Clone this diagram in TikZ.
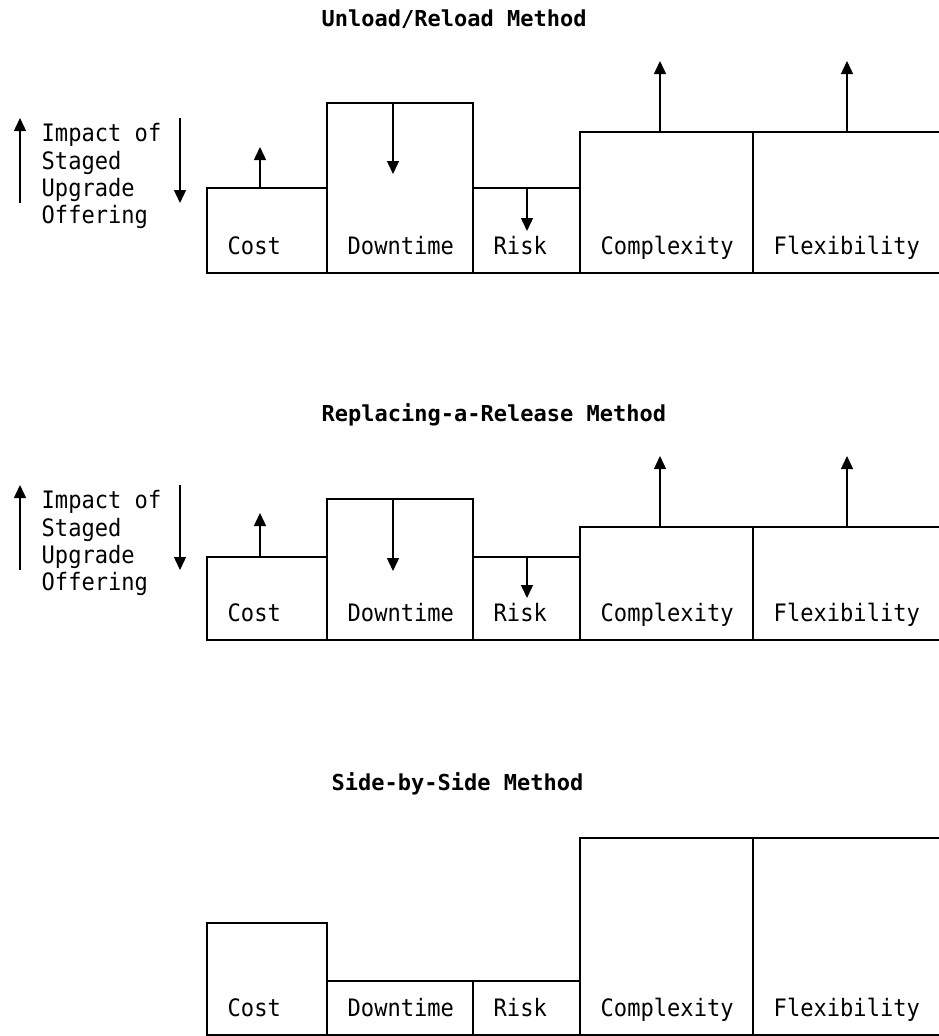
\documentclass[tikz,border=0pt]{standalone}
\usepackage{fontspec}
\setmonofont[FakeStretch=0.92]{DejaVu Sans Mono}
\newfontfamily\titlemono{DejaVu Sans Mono}
\usetikzlibrary{positioning, arrows.meta}

\tikzset{
    bar/.style={draw, inner sep=0pt, outer sep=0pt, anchor=south west},
    lbl/.style={font=\ttfamily\fontsize{24}{27.3}\selectfont, inner sep=0pt, anchor=base west},
    ttl/.style={font=\titlemono\bfseries\fontsize{22}{27}\selectfont, inner sep=0pt, anchor=base west},
    imp/.style={lbl, align=left, anchor=north west},
}

\begin{document}
\begin{tikzpicture}[x=1pt, y=-1pt, line width=1.4pt, >={Triangle[width=12pt,length=13pt]}]
            \useasboundingbox (0,0) rectangle (939,1036);
            \clip (0,0) rectangle (939,1036);

            % Unload/Reload Method
            \node[ttl] (title1) at (321,27) {Unload/Reload Method};
            \node[imp] (impact1) at (41,123) {Impact of\\Staged\\Upgrade\\Offering};
            \coordinate (up1from) at (20,203);
            \coordinate (up1to) at (20,118);
            \coordinate (down1from) at (180,118);
            \coordinate (down1to) at (180,203);
            \node[bar, minimum width=120pt, minimum height=85pt] (cost1) at (207,273) {};
            \node[bar, minimum width=146pt, minimum height=170pt] (downtime1) at (327,273) {};
            \node[bar, minimum width=107pt, minimum height=85pt] (risk1) at (473,273) {};
            \node[bar, minimum width=173pt, minimum height=141pt] (complexity1) at (580,273) {};
            \node[bar, minimum width=192pt, minimum height=141pt] (flexibility1) at (753,273) {};
            \node[lbl] (costlabel1) at ([shift={(20pt,19pt)}]cost1.south west) {Cost};
            \node[lbl] (downtimelabel1) at ([shift={(20pt,19pt)}]downtime1.south west) {Downtime};
            \node[lbl] (risklabel1) at ([shift={(20pt,19pt)}]risk1.south west) {Risk};
            \node[lbl] (complexitylabel1) at ([shift={(20pt,19pt)}]complexity1.south west) {Complexity};
            \node[lbl] (flexibilitylabel1) at ([shift={(20pt,19pt)}]flexibility1.south west) {Flexibility};
            \coordinate (cost1tip) at (260,147);
            \coordinate (downtime1tip) at (393,174);
            \coordinate (risk1tip) at (527,231);
            \coordinate (complexity1tip) at (660,61);
            \coordinate (flexibility1tip) at (847,61);

            \draw [->] (up1from) -- (up1to);
            \draw [->] (down1from) -- (down1to);
            \draw [->] (cost1tip |- cost1.north) -- (cost1tip);
            \draw [->] (downtime1tip |- downtime1.north) -- (downtime1tip);
            \draw [->] (risk1tip |- risk1.north) -- (risk1tip);
            \draw [->] (complexity1tip |- complexity1.north) -- (complexity1tip);
            \draw [->] (flexibility1tip |- flexibility1.north) -- (flexibility1tip);

            % Replacing-a-Release Method
            \node[ttl] (title2) at (321,421) {Replacing-a-Release Method};
            \node[imp] (impact2) at (41,490) {Impact of\\Staged\\Upgrade\\Offering};
            \coordinate (up2from) at (20,570);
            \coordinate (up2to) at (20,485);
            \coordinate (down2from) at (180,485);
            \coordinate (down2to) at (180,570);
            \node[bar, minimum width=120pt, minimum height=83pt] (cost2) at (207,640) {};
            \node[bar, minimum width=146pt, minimum height=141pt] (downtime2) at (327,640) {};
            \node[bar, minimum width=107pt, minimum height=83pt] (risk2) at (473,640) {};
            \node[bar, minimum width=173pt, minimum height=113pt] (complexity2) at (580,640) {};
            \node[bar, minimum width=192pt, minimum height=113pt] (flexibility2) at (753,640) {};
            \node[lbl] (costlabel2) at ([shift={(20pt,19pt)}]cost2.south west) {Cost};
            \node[lbl] (downtimelabel2) at ([shift={(20pt,19pt)}]downtime2.south west) {Downtime};
            \node[lbl] (risklabel2) at ([shift={(20pt,19pt)}]risk2.south west) {Risk};
            \node[lbl] (complexitylabel2) at ([shift={(20pt,19pt)}]complexity2.south west) {Complexity};
            \node[lbl] (flexibilitylabel2) at ([shift={(20pt,19pt)}]flexibility2.south west) {Flexibility};
            \coordinate (cost2tip) at (260,513);
            \coordinate (downtime2tip) at (393,571);
            \coordinate (risk2tip) at (527,598);
            \coordinate (complexity2tip) at (660,456);
            \coordinate (flexibility2tip) at (847,456);

            \draw [->] (up2from) -- (up2to);
            \draw [->] (down2from) -- (down2to);
            \draw [->] (cost2tip |- cost2.north) -- (cost2tip);
            \draw [->] (downtime2tip |- downtime2.north) -- (downtime2tip);
            \draw [->] (risk2tip |- risk2.north) -- (risk2tip);
            \draw [->] (complexity2tip |- complexity2.north) -- (complexity2tip);
            \draw [->] (flexibility2tip |- flexibility2.north) -- (flexibility2tip);

            % Side-by-Side Method
            \node[ttl] (title3) at (331,790) {Side-by-Side Method};
            \node[bar, minimum width=120pt, minimum height=112pt] (cost3) at (207,1035) {};
            \node[bar, minimum width=146pt, minimum height=54pt] (downtime3) at (327,1035) {};
            \node[bar, minimum width=107pt, minimum height=54pt] (risk3) at (473,1035) {};
            \node[bar, minimum width=173pt, minimum height=197pt] (complexity3) at (580,1035) {};
            \node[bar, minimum width=192pt, minimum height=197pt] (flexibility3) at (753,1035) {};
            \node[lbl] (costlabel3) at ([shift={(20pt,19pt)}]cost3.south west) {Cost};
            \node[lbl] (downtimelabel3) at ([shift={(20pt,19pt)}]downtime3.south west) {Downtime};
            \node[lbl] (risklabel3) at ([shift={(20pt,19pt)}]risk3.south west) {Risk};
            \node[lbl] (complexitylabel3) at ([shift={(20pt,19pt)}]complexity3.south west) {Complexity};
            \node[lbl] (flexibilitylabel3) at ([shift={(20pt,19pt)}]flexibility3.south west) {Flexibility};
        \end{tikzpicture}
\end{document}
